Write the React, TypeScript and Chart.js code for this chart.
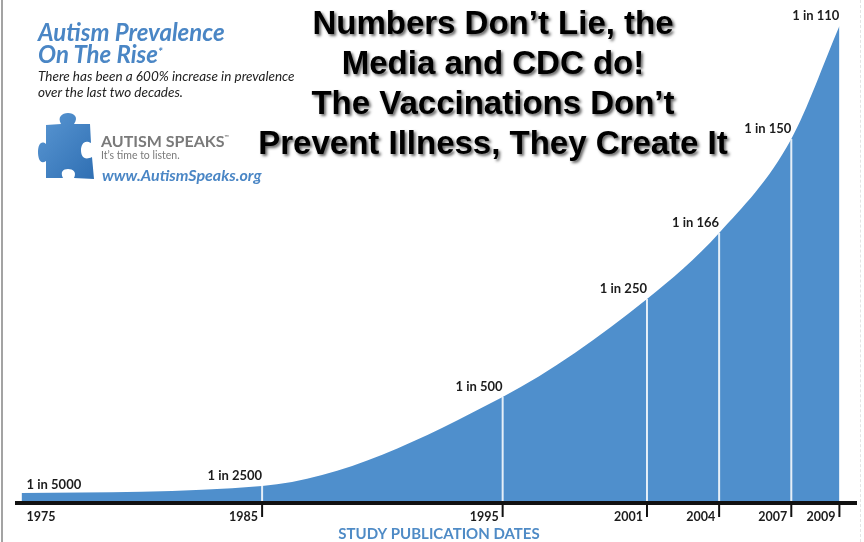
import React, { useEffect, useRef } from "react";
import { Chart, registerables } from "chart.js";

Chart.register(...registerables);

// ---- data ----
const years = [1975, 1985, 1995, 2001, 2004, 2007, 2009];
// height of the rising curve above the axis (relative units, hidden axis)
const curveHeights = [10, 17, 106, 204, 270, 364, 477];
const prevalenceLabels = ["1 in 5000", "1 in 2500", "1 in 500", "1 in 250", "1 in 166", "1 in 150", "1 in 110"];
const yearLabels = ["1975", "1985", "1995", "2001", "2004", "2007", "2009"];
const axisTitle = "STUDY PUBLICATION DATES";
const headline = [
  "Numbers Don\u2019t Lie, the",
  "Media and CDC do!",
  "The Vaccinations Don\u2019t",
  "Prevent Illness, They Create It",
];

const FILL_BLUE = "#4f8fcc";
const TEXT_BLUE = "#4a86c5";

const overlayPlugin = {
  id: "overlayPlugin",
  afterDraw(chart: any) {
    const { ctx, scales } = chart;
    const x = scales.x;
    const y = scales.y;
    const base = y.getPixelForValue(0);
    ctx.save();
    // white separators
    ctx.strokeStyle = "rgba(238,244,250,0.95)";
    ctx.lineWidth = 2;
    for (let i = 1; i < years.length - 1; i++) {
      const px = x.getPixelForValue(years[i]);
      const top = y.getPixelForValue(curveHeights[i]);
      ctx.beginPath();
      ctx.moveTo(px, top);
      ctx.lineTo(px, base - 2);
      ctx.stroke();
    }
    // tick marks
    ctx.strokeStyle = "#111";
    ctx.lineWidth = 2;
    for (let i = 1; i < years.length; i++) {
      const px = x.getPixelForValue(years[i]);
      ctx.beginPath();
      ctx.moveTo(px, base + 2);
      ctx.lineTo(px, base + 14);
      ctx.stroke();
    }
    // year labels
    ctx.fillStyle = "#1c1c1c";
    ctx.font = "bold 12.5px Lato";
    ctx.textBaseline = "middle";
    for (let i = 0; i < years.length; i++) {
      const px = x.getPixelForValue(years[i]);
      if (i === 0) {
        ctx.textAlign = "left";
        ctx.fillText(yearLabels[i], px + 5, base + 14);
      } else {
        ctx.textAlign = "right";
        ctx.fillText(yearLabels[i], px - 4, base + 14);
      }
    }
    // prevalence labels
    ctx.font = "bold 13px Lato";
    for (let i = 0; i < years.length; i++) {
      const px = x.getPixelForValue(years[i]);
      const top = y.getPixelForValue(curveHeights[i]);
      if (i === 0) {
        ctx.textAlign = "left";
        ctx.fillText(prevalenceLabels[i], px + 5, top - 8);
      } else {
        ctx.textAlign = "right";
        ctx.fillText(prevalenceLabels[i], px, top - 10);
      }
    }
    // axis title
    ctx.fillStyle = "#4f8bc6";
    ctx.font = "bold 15px Lato";
    ctx.textAlign = "center";
    ctx.fillText(axisTitle, 439, base + 31);
    ctx.restore();
  },
};

function Puzzle() {
  return (
    <svg
      width={60}
      height={70}
      viewBox="0 0 60 70"
      style={{ position: "absolute", left: 37, top: 112 }}
    >
      <defs>
        <linearGradient id="pg" x1="0" y1="0" x2="1" y2="1">
          <stop offset="0" stopColor="#5a97d3" />
          <stop offset="1" stopColor="#2f6fb3" />
        </linearGradient>
      </defs>
      <path
        d="M 9 13 L 24 12 C 20 5, 25 1, 31 1 C 37 1, 42 5, 37 12 L 53 12 L 54 31 C 47 27, 44 33, 44 38 C 44 44, 47 49, 55 45 L 57 67 L 37 66 C 40 60, 36 57, 31 57 C 26 57, 23 60, 26 66 L 9 66 L 9 49 C 3 53, 1 46, 1 40 C 1 33, 4 28, 9 32 Z"
        fill="url(#pg)"
      />
    </svg>
  );
}

export default function App() {
  const canvasRef = useRef<HTMLCanvasElement | null>(null);

  useEffect(() => {
    if (!canvasRef.current) return;
    const chart = new Chart(canvasRef.current, {
      type: "line",
      data: {
        datasets: [
          {
            data: years.map((yr, i) => ({ x: yr, y: curveHeights[i] })),
            fill: "origin",
            backgroundColor: FILL_BLUE,
            borderWidth: 0,
            borderColor: FILL_BLUE,
            pointRadius: 0,
            cubicInterpolationMode: "monotone",
          },
        ],
      },
      options: {
        animation: false,
        responsive: false,
        maintainAspectRatio: false,
        layout: { padding: { left: 17, right: 8, top: 0, bottom: 39 } },
        plugins: {
          legend: { display: false },
          tooltip: { enabled: false },
          title: { display: false },
        },
        scales: {
          x: {
            type: "linear",
            min: 1974.81,
            max: 2009.69,
            display: true,
            grid: { display: false, drawTicks: false },
            ticks: { display: false },
            border: { display: true, color: "#111", width: 4, z: 1 },
          },
          y: {
            type: "linear",
            min: 0,
            max: 503,
            display: false,
          },
        },
      },
      plugins: [overlayPlugin],
    } as any);
    return () => chart.destroy();
  }, []);

  const abs = (extra: React.CSSProperties): React.CSSProperties => ({
    position: "absolute",
    whiteSpace: "nowrap",
    margin: 0,
    ...extra,
  });

  return (
    <div
      style={{
        position: "absolute",
        left: 0,
        top: 0,
        width: 864,
        height: 542,
        overflow: "hidden",
        background: "#fff",
      }}
    >
      <canvas
        ref={canvasRef}
        width={864}
        height={542}
        style={{ position: "absolute", left: 0, top: 0 }}
      />
      <div style={abs({ left: 1, top: 0, width: 2, height: 542, background: "#a3a3a3" })} />
      <div style={abs({ left: 860, top: 0, width: 0, height: 542, borderLeft: "1px dashed #e4e4e4" })} />

      {/* logo block */}
      <div style={abs({ left: 38, top: 20, font: "italic bold 24px/24px Lato", color: TEXT_BLUE })}>
        Autism Prevalence
      </div>
      <div style={abs({ left: 38, top: 40, font: "italic bold 24px/24px Lato", color: TEXT_BLUE })}>
        On The Rise<span style={{ fontSize: 12, verticalAlign: 7 }}>*</span>
      </div>
      <div style={abs({ left: 38, top: 68, font: "italic 13.5px/16px Lato", color: "#222" })}>
        There has been a 600% increase in prevalence
      </div>
      <div style={abs({ left: 38, top: 84, font: "italic 13.5px/16px Lato", color: "#222" })}>
        over the last two decades.
      </div>
      <Puzzle />
      <div style={abs({ left: 101, top: 129, font: "bold 16px/16px Lato", color: "#7a7a7a" })}>
        AUTISM SPEAKS<span style={{ fontSize: 6, verticalAlign: 8 }}>™</span>
      </div>
      <div style={abs({ left: 101, top: 149, font: "10.5px/12px Lato", color: "#7a7a7a" })}>
        It’s time to listen.
      </div>
      <div style={abs({ left: 102, top: 167, font: "italic bold 16px/16px Lato", color: TEXT_BLUE })}>
        www.AutismSpeaks.org
      </div>

      {/* headline */}
      <div
        style={abs({
          left: 193,
          top: 3,
          width: 600,
          textAlign: "center",
          font: "bold 33px/40px 'Liberation Sans', Arial, sans-serif",
          color: "#000",
          textShadow: "2px 2px 3px rgba(0,0,0,0.6)",
        })}
      >
        {headline.map((l, i) => (
          <div key={i}>{l}</div>
        ))}
      </div>
    </div>
  );
}
